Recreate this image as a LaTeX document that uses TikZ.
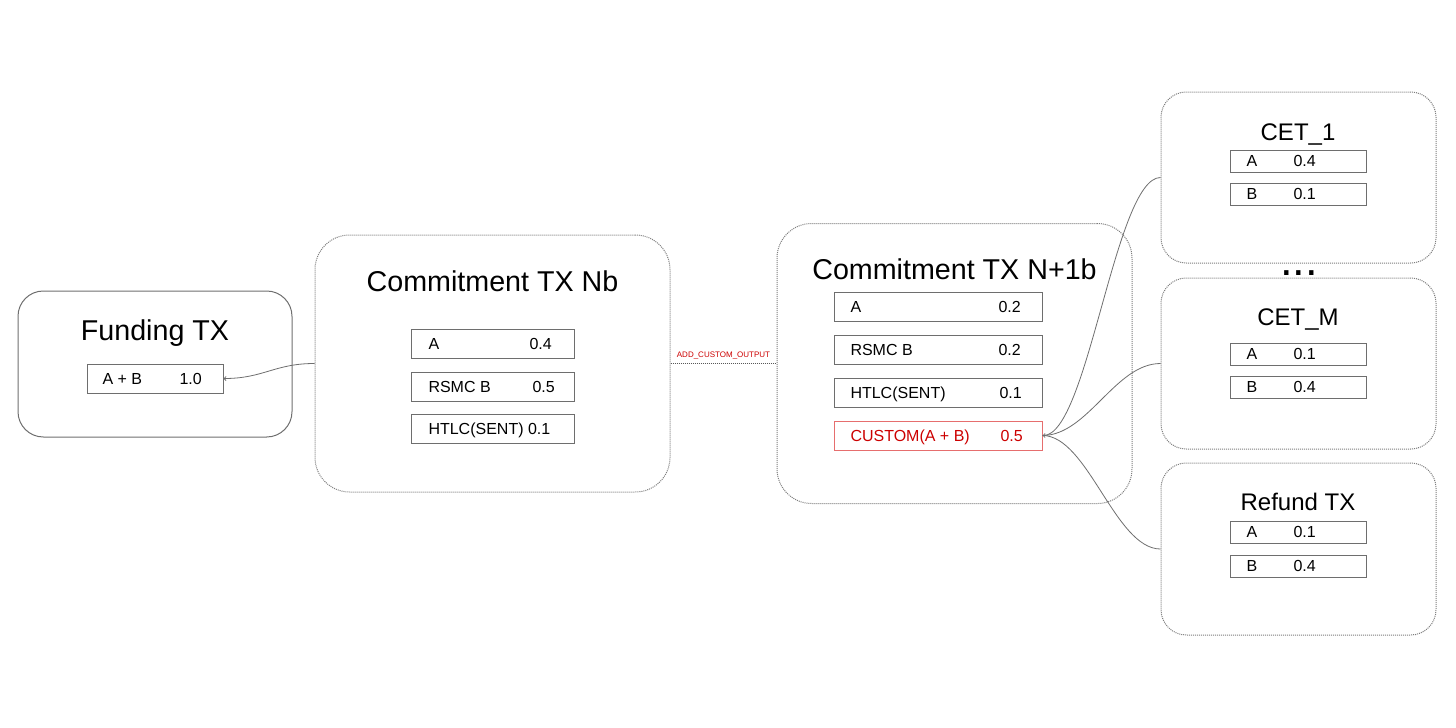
\documentclass[tikz,border=0pt]{standalone}
\usepackage{fontspec}
\setmainfont{Liberation Sans}
\usetikzlibrary{arrows.meta}

\definecolor{rowgray}{RGB}{110,110,110}
\definecolor{dotgray}{RGB}{125,125,125}
\definecolor{linegray}{RGB}{110,110,110}
\definecolor{custred}{RGB}{204,0,0}
\definecolor{custpink}{RGB}{230,110,110}

\tikzset{every picture/.style={line width=0.75pt}}
\tikzset{
  txbox/.style={draw=dotgray, dash pattern=on 0.75pt off 0.75pt, rounded corners=19pt, inner sep=0pt},
  fundbox/.style={draw=rowgray, rounded corners=19pt, inner sep=0pt},
  outrow/.style={draw=rowgray, inner sep=0pt, minimum height=21.75pt},
  cetrow/.style={draw=rowgray, inner sep=0pt, minimum width=102pt, minimum height=16.5pt},
  titlelg/.style={font=\fontsize{21.5}{26}\selectfont},
  titlesm/.style={font=\fontsize{18}{22}\selectfont},
  rowtext/.style={font=\fontsize{12}{14}\selectfont},
  tagtext/.style={font=\fontsize{6}{7}\selectfont, text=custred},
  conn/.style={draw=linegray, line width=0.6pt}
}

\begin{document}
\begin{tikzpicture}[x=0.75pt,y=0.75pt,yscale=-1,xscale=1]
\useasboundingbox (0,0) rectangle (1456,728);

%Rounded Rect: Funding TX
\node [fundbox, minimum width=205.5pt, minimum height=109.5pt] (fund) at (155,364) {};
%Rounded Rect: Commitment TX Nb
\node [txbox, rounded corners=26pt, minimum width=266.25pt, minimum height=192.75pt] (comN) at (492.5,363.5) {};
%Rounded Rect: Commitment TX N+1b
\node [txbox, rounded corners=26pt, minimum width=266.25pt, minimum height=210pt] (comNi) at (954.5,363.5) {};
%Rounded Rect: CET_1, CET_M, Refund TX
\node [txbox, minimum width=206.25pt, minimum height=128.25pt] (cetA) at (1298.5,177.5) {};
\node [txbox, minimum width=206.25pt, minimum height=128.25pt] (cetM) at (1298.5,363.5) {};
\node [txbox, minimum width=206.25pt, minimum height=129pt] (refund) at (1298.5,549) {};

%Shape: Rectangle (outputs)
\node [outrow, minimum width=102pt] (fundAB) at (155,378.5) {};
\node [outrow, minimum width=122.25pt] (comNa) at (492.5,343.5) {};
\node [outrow, minimum width=122.25pt] (comNb) at (492.5,386.5) {};
\node [outrow, minimum width=122.25pt] (comNc) at (492.5,428.5) {};
\node [outrow, minimum width=156pt] (comNia) at (938,306.5) {};
\node [outrow, minimum width=156pt] (comNib) at (938,349.5) {};
\node [outrow, minimum width=156pt] (comNic) at (938,392.5) {};
\node [outrow, draw=custpink, minimum width=156pt] (comNid) at (938,435.5) {};
\node [cetrow] (cetAa) at (1298,161) {};
\node [cetrow] (cetAb) at (1298,194) {};
\node [cetrow] (cetMa) at (1298,354) {};
\node [cetrow] (cetMb) at (1298,387) {};
\node [cetrow] (refunda) at (1298,532) {};
\node [cetrow] (refundb) at (1298,566) {};

%Curve Lines
\draw [conn, -{Straight Barb[length=1.5pt,width=3pt]}] (comN.west) to[out=180, in=0, distance=30pt] (fundAB.east);
\draw [conn, {Straight Barb[length=1.5pt,width=3pt]}-] (comNid.east) to[out=0, in=180, distance=34pt] (cetA.west);
\draw [conn] (comNid.east) to[out=0, in=180, distance=34pt] (cetM.west);
\draw [conn] (comNid.east) to[out=0, in=180, distance=34pt] (refund.west);
%Straight Lines
\draw [draw=dotgray!70!black, dash pattern=on 0.75pt off 0.75pt] (comN.east) -- (comNi.west) node [midway, above=2pt, tagtext, inner sep=0.75pt] (tag) {ADD\_CUSTOM\_OUTPUT};

% Text Node
\draw (155,340) node [anchor=base][inner sep=0.75pt, titlelg] (fundT) {Funding TX};
% Text Node
\draw (492.5,291) node [anchor=base][inner sep=0.75pt, titlelg] (comNT) {Commitment TX Nb};
% Text Node
\draw (954.5,279) node [anchor=base][inner sep=0.75pt, titlelg] (comNiT) {Commitment TX N+1b};
% Text Node
\draw (1298,140) node [anchor=base][inner sep=0.75pt, titlesm] (cetAT) {CET\_1};
% Text Node
\draw (1298,325) node [anchor=base][inner sep=0.75pt, titlesm] (cetMT) {CET\_M};
% Text Node
\draw (1298,510.5) node [anchor=base][inner sep=0.75pt, titlesm] (refundT) {Refund TX};
% Text Node
\draw (1299,275) node [anchor=base][inner sep=0.75pt, font=\fontsize{34}{36}\selectfont] (dots) {...};

% Text Node
\draw (101,384) node [anchor=base west][inner sep=0.75pt, rowtext] {A + B};
\draw (178,384) node [anchor=base west][inner sep=0.75pt, rowtext] {1.0};
% Text Node
\draw (427,349) node [anchor=base west][inner sep=0.75pt, rowtext] {A};
\draw (528,349) node [anchor=base west][inner sep=0.75pt, rowtext] {0.4};
\draw (427,392) node [anchor=base west][inner sep=0.75pt, rowtext] {RSMC B};
\draw (531,392) node [anchor=base west][inner sep=0.75pt, rowtext] {0.5};
\draw (427,434) node [anchor=base west][inner sep=0.75pt, rowtext] {HTLC(SENT) 0.1};
% Text Node
\draw (849,312) node [anchor=base west][inner sep=0.75pt, rowtext] {A};
\draw (997,312) node [anchor=base west][inner sep=0.75pt, rowtext] {0.2};
\draw (849,355) node [anchor=base west][inner sep=0.75pt, rowtext] {RSMC B};
\draw (997,355) node [anchor=base west][inner sep=0.75pt, rowtext] {0.2};
\draw (849,398) node [anchor=base west][inner sep=0.75pt, rowtext] {HTLC(SENT)};
\draw (998,398) node [anchor=base west][inner sep=0.75pt, rowtext] {0.1};
\draw (849,441) node [anchor=base west][inner sep=0.75pt, rowtext, text=custred] {CUSTOM(A + B)};
\draw (999,441) node [anchor=base west][inner sep=0.75pt, rowtext, text=custred] {0.5};
% Text Node
\draw (1245,166) node [anchor=base west][inner sep=0.75pt, rowtext] {A};
\draw (1292,166) node [anchor=base west][inner sep=0.75pt, rowtext] {0.4};
\draw (1245,199) node [anchor=base west][inner sep=0.75pt, rowtext] {B};
\draw (1292,199) node [anchor=base west][inner sep=0.75pt, rowtext] {0.1};
% Text Node
\draw (1245,359) node [anchor=base west][inner sep=0.75pt, rowtext] {A};
\draw (1292,359) node [anchor=base west][inner sep=0.75pt, rowtext] {0.1};
\draw (1245,392) node [anchor=base west][inner sep=0.75pt, rowtext] {B};
\draw (1292,392) node [anchor=base west][inner sep=0.75pt, rowtext] {0.4};
% Text Node
\draw (1245,537) node [anchor=base west][inner sep=0.75pt, rowtext] {A};
\draw (1292,537) node [anchor=base west][inner sep=0.75pt, rowtext] {0.1};
\draw (1245,571) node [anchor=base west][inner sep=0.75pt, rowtext] {B};
\draw (1292,571) node [anchor=base west][inner sep=0.75pt, rowtext] {0.4};

\end{tikzpicture}
\end{document}
